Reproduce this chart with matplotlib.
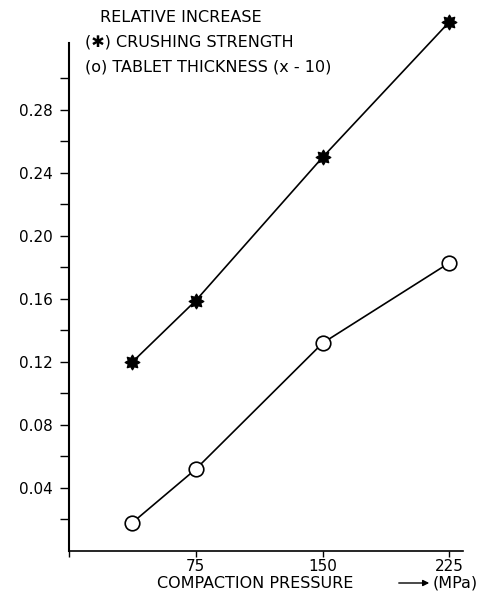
import matplotlib
matplotlib.use("Agg")
import matplotlib.pyplot as plt
import numpy as np
from matplotlib.path import Path

# ---- data ----
pressure = [37.5, 75, 150, 225]
crushing_strength = [0.120, 0.159, 0.250, 0.336]
tablet_thickness = [0.018, 0.052, 0.132, 0.183]
x_ticks = [0, 75, 150, 225]
x_ticklabels = ["", "75", "150", "225"]
y_major = [0.04, 0.08, 0.12, 0.16, 0.20, 0.24, 0.28]
y_minor = [0.02, 0.06, 0.10, 0.14, 0.18, 0.22, 0.26, 0.30]
y_ticklabels = ["0.04", "0.08", "0.12", "0.16", "0.20", "0.24", "0.28"]

plt.rcParams['font.family'] = ['DejaVu Sans']

fig = plt.figure(figsize=(4.8, 5.96), dpi=100)
W, H = 480, 596
ax = fig.add_axes([69 / W, (H - 551) / H, (463 - 69) / W, (551 - 43) / H])

# 8-pointed star marker shape
n = 8
ang = np.linspace(0, 2 * np.pi, 2 * n, endpoint=False) + np.pi / 2
rad = np.where(np.arange(2 * n) % 2 == 0, 1.0, 0.62)
verts = np.column_stack([rad * np.cos(ang), rad * np.sin(ang)])
verts = np.vstack([verts, verts[0]])
star = Path(verts, closed=True)

ax.plot(pressure, crushing_strength, color='black', lw=1.2, marker=star,
        markersize=10.5, markerfacecolor='black', markeredgecolor='black',
        clip_on=False, zorder=3)
ax.plot(pressure, tablet_thickness, color='black', lw=1.2, marker='o',
        markersize=10.5, markerfacecolor='white', markeredgecolor='black',
        markeredgewidth=1.2, clip_on=False, zorder=3)

ax.set_xlim(0, 233)
ax.set_ylim(0, 0.3225)

ax.spines['top'].set_visible(False)
ax.spines['right'].set_visible(False)
ax.spines['left'].set_linewidth(1.5)
ax.spines['bottom'].set_linewidth(1.2)

ax.set_xticks(x_ticks)
ax.set_xticklabels(x_ticklabels, fontsize=11)
ax.set_yticks(y_major)
ax.set_yticklabels(y_ticklabels, fontsize=11)
ax.set_yticks(y_minor, minor=True)
ax.tick_params(axis='y', which='both', direction='out', length=6.5, width=1.0, pad=5)
ax.tick_params(axis='x', which='major', direction='out', length=4, width=1.0, pad=2)

# x label and unit arrow
fig.text(255 / W, 1 - 583 / H, "COMPACTION PRESSURE", ha='center', va='center', fontsize=11.5)
fig.text(478 / W, 1 - 583 / H, "(MPa)", ha='right', va='center', fontsize=11.5)
fig.add_artist(matplotlib.patches.FancyArrowPatch(
    (396 / W, 1 - 583 / H), (432 / W, 1 - 583 / H), transform=fig.transFigure,
    arrowstyle='-|>', mutation_scale=9, color='black', lw=1.0))

# legend text block
fig.text(100 / W, 1 - 17 / H, "RELATIVE INCREASE", ha='left', va='center', fontsize=11.5)
fig.text(85 / W, 1 - 42 / H, "(\u2731) CRUSHING STRENGTH", ha='left', va='center', fontsize=11.5)
fig.text(85 / W, 1 - 67 / H, "(o) TABLET THICKNESS (x - 10)", ha='left', va='center', fontsize=11.5)

fig.savefig("out.png", dpi=100)
